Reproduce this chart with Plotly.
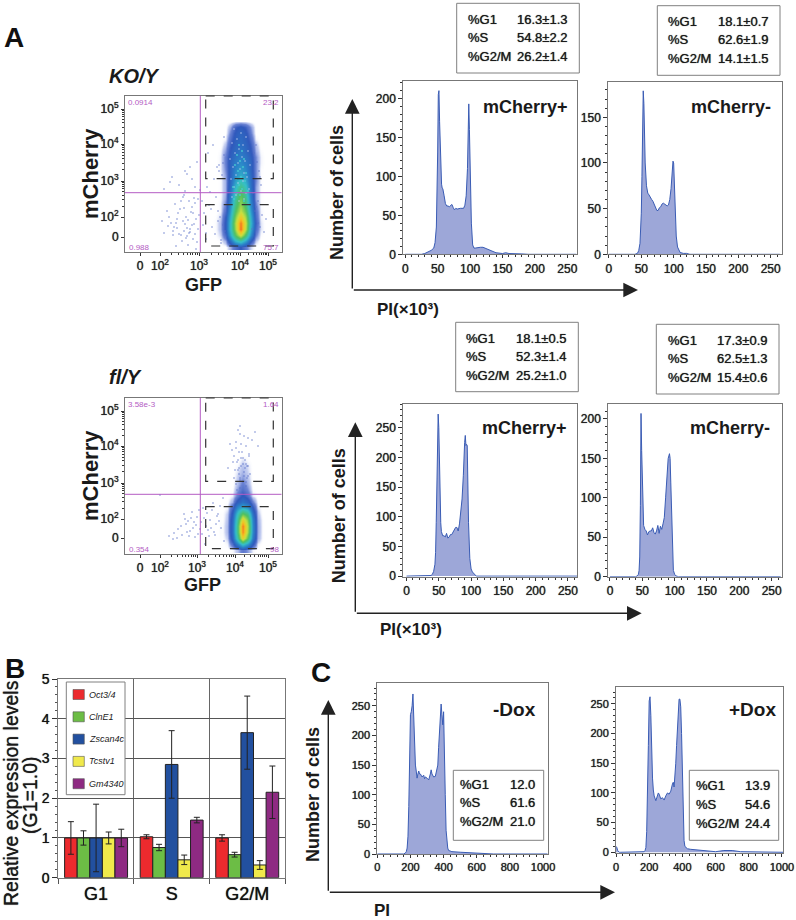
"""
Cell cycle figure: flow plots, PI histograms and expression bars (panels A, B, C).
"""
import math
import plotly.graph_objects as go

W, H = 796, 920
FONT = "Liberation Sans"
MAGENTA = "#b45cc4"
FRAME = "#777777"
HIST_LINE = "#3a5cb4"
HIST_FILL = "#9da7d8"
HEAVY = "0 0 0.8px #222222"

# --- panel A histograms (PI x 10^3 against cell counts)
ko_pos_x = [0, 25, 30, 35, 40, 44, 46, 48, 49, 50, 51, 52, 53, 54, 55, 56, 57, 58, 60, 62, 64, 66, 68, 70, 72, 74, 76, 78, 80, 85, 90, 92, 94, 96, 97, 98, 99, 100, 101, 102, 104, 106, 108, 112, 116, 120, 125, 130, 135, 140, 150, 155, 160, 170, 180, 190, 264]
ko_pos_y = [0, 0, 1, 3, 5, 8, 15, 35, 70, 130, 205, 210, 170, 130, 100, 90, 85, 84, 75, 65, 62, 62, 61, 62, 64, 60, 57, 59, 58, 59, 59, 63, 75, 110, 150, 193, 160, 110, 60, 40, 12, 8, 8, 9, 9, 9, 7, 5, 3, 2, 1, 2, 1, 1, 0.5, 0, 0]
ko_neg_x = [0, 40, 44, 46, 48, 49, 50, 51, 52, 53, 54, 55, 56, 58, 60, 62, 64, 66, 68, 70, 72, 74, 76, 78, 80, 82, 84, 86, 88, 90, 92, 94, 96, 97, 98, 99, 100, 101, 102, 104, 106, 108, 110, 115, 120, 125, 264]
ko_neg_y = [0, 0, 1, 4, 12, 25, 45, 85, 140, 179, 165, 130, 100, 75, 67, 65, 62, 60, 58, 55, 52, 48, 48, 51, 52, 55, 56, 55, 54, 53, 54, 60, 72, 85, 95, 102, 100, 75, 50, 20, 8, 4, 2, 1, 1, 0, 0]
fl_pos_x = [0, 35, 38, 40, 42, 44, 45, 46, 47, 48, 49, 50, 51, 52, 53, 54, 55, 56, 58, 60, 62, 64, 66, 68, 70, 72, 74, 76, 78, 80, 82, 84, 86, 88, 89, 90, 91, 92, 93, 94, 95, 96, 98, 100, 102, 104, 106, 108, 264]
fl_pos_y = [0, 0, 1, 3, 8, 20, 40, 90, 160, 240, 273, 250, 180, 120, 90, 75, 70, 68, 68, 66, 72, 64, 66, 70, 70, 74, 76, 82, 82, 76, 88, 105, 130, 170, 210, 225, 237, 220, 222, 220, 150, 90, 30, 12, 7, 4, 2, 0, 0]
fl_neg_x = [0, 40, 42, 44, 45, 46, 47, 48, 49, 50, 51, 52, 54, 56, 58, 60, 62, 64, 66, 68, 70, 72, 74, 76, 78, 80, 82, 84, 86, 88, 90, 92, 93, 94, 95, 96, 97, 98, 100, 102, 104, 106, 264]
fl_neg_y = [0, 0, 1, 3, 8, 25, 90, 207, 160, 110, 80, 65, 60, 58, 53, 57, 58, 58, 62, 56, 54, 58, 65, 55, 64, 60, 67, 75, 100, 130, 150, 156, 150, 120, 85, 45, 20, 8, 3, 1, 0.5, 0, 0]

# --- panel C histograms
minus_dox_x = [0, 160, 170, 175, 180, 185, 190, 195, 200, 205, 210, 215, 220, 225, 230, 235, 240, 245, 250, 255, 260, 270, 280, 285, 290, 300, 310, 320, 325, 330, 340, 350, 360, 365, 370, 375, 380, 385, 390, 395, 400, 405, 410, 415, 420, 425, 430, 440, 450, 500, 550, 600, 700, 1028]
minus_dox_y = [0, 0, 2, 4, 10, 30, 80, 160, 235, 240, 250, 270, 220, 160, 150, 140, 128, 135, 140, 135, 135, 130, 133, 127, 130, 128, 125, 135, 142, 135, 130, 131, 145, 150, 180, 200, 225, 253, 235, 218, 240, 190, 100, 40, 20, 10, 6, 5, 4, 3, 2, 1, 0, 0]
plus_dox_x = [0, 5, 10, 15, 20, 25, 160, 170, 175, 180, 185, 190, 195, 200, 205, 210, 215, 220, 225, 230, 240, 250, 255, 260, 270, 280, 290, 300, 310, 320, 330, 340, 345, 350, 355, 360, 365, 370, 375, 380, 385, 390, 395, 400, 405, 410, 415, 420, 430, 450, 500, 550, 600, 650, 700, 750, 1008]
plus_dox_y = [10, 8, 3, 1, 0, 0, 0, 1, 3, 8, 35, 90, 180, 255, 262, 230, 170, 125, 105, 95, 87, 95, 100, 98, 90, 92, 88, 95, 100, 98, 103, 115, 118, 110, 125, 150, 180, 210, 240, 258, 258, 245, 200, 130, 50, 20, 10, 8, 6, 5, 4, 3, 1, 3, 3, 1, 0, 0]

# --- panel B
phases = ["G1", "S", "G2/M"]
genes = ["Oct3/4", "ClnE1", "Zscan4c", "Tcstv1", "Gm4340"]
gene_colors = ["#ec2a2e", "#6cbd45", "#22509f", "#f0e94b", "#8e2a82"]
expr_values = [[1, 1.03, 1.0], [1, 0.76, 0.58], [1, 2.85, 3.65], [1, 0.45, 0.32], [1, 1.45, 2.15]]
expr_errors = [[0.41, 0.05, 0.08], [0.18, 0.08, 0.06], [0.85, 0.85, 0.92], [0.15, 0.12, 0.11], [0.22, 0.07, 0.66]]

# --- flow plots: density, axis units are display channels
flow_ticktext = ["0", "10<sup>2</sup>", "10<sup>3</sup>", "10<sup>4</sup>", "10<sup>5</sup>"]
ko_tick_x = [0, 20, 59, 100, 128]
ko_tick_y = [0, 20, 56, 93, 128]
fl_tick_x = [0, 20, 57, 95, 128]
fl_tick_y = [0, 19, 55, 92, 127]

ko_grid_x = [70, 75, 80, 85, 90, 95, 100, 105, 110, 115, 120, 125]
ko_grid_y = [116, 110, 104, 98, 92, 86, 80, 74, 68, 62, 56, 50, 44, 38, 32, 26, 20, 14, 8, 2, -4, -10]
ko_density = [
    [0, 0, 0, 0, 0, 0, 0, 0, 0, 0, 0, 0],
    [0, 0, 0, 0, .2, .6, .8, .6, .25, 0, 0, 0],
    [0, 0, 0, 0, .35, .8, 1, .8, .35, 0, 0, 0],
    [0, 0, 0, .05, .5, .9, 1.1, .9, .5, .05, 0, 0],
    [0, 0, 0, .15, .65, 1, 1.2, 1, .65, .15, 0, 0],
    [0, 0, .03, .25, .8, 1.1, 1.4, 1.1, .75, .2, .03, 0],
    [0, 0, .05, .35, .9, 1.3, 1.6, 1.3, .9, .3, .05, 0],
    [0, 0, .05, .35, 1, 1.5, 1.8, 1.5, 1, .3, .05, 0],
    [0, 0, .05, .3, 1, 1.7, 2.1, 1.7, 1, .3, .03, 0],
    [0, 0, .03, .25, 1, 1.9, 2.4, 2, 1.1, .3, .03, 0],
    [0, 0, .03, .2, 1.1, 2.2, 3, 2.4, 1.2, .3, .03, 0],
    [0, 0, .03, .2, 1.2, 2.7, 3.8, 3, 1.3, .25, .03, 0],
    [0, 0, .03, .2, 1.4, 3.2, 4.5, 3.4, 1.4, .25, .03, 0],
    [0, 0, .03, .25, 1.6, 3.6, 5, 3.8, 1.6, .25, .03, 0],
    [0, 0, .05, .35, 1.9, 4, 5.4, 4.2, 1.8, .35, .03, 0],
    [0, 0, .05, .5, 2.2, 4.5, 6, 4.7, 2.1, .45, .05, 0],
    [0, .02, .1, .7, 2.6, 5.2, 7.2, 5.5, 2.5, .55, .05, 0],
    [0, .03, .15, .8, 2.9, 5.8, 8.6, 6, 2.7, .65, .08, 0],
    [0, .03, .15, .8, 2.9, 5.6, 8.8, 5.8, 2.5, .55, .08, 0],
    [0, .02, .1, .55, 2.4, 4.6, 6.3, 4.3, 1.9, .35, .03, 0],
    [0, 0, .03, .2, 1.2, 2.6, 3.2, 2.2, .8, .12, 0, 0],
    [0, 0, 0, 0, .2, .5, .7, .4, .1, 0, 0, 0],
]
fl_grid_x = [82, 87, 92, 97, 102, 107, 112, 117, 122]
fl_grid_y = [84, 78, 72, 66, 60, 54, 48, 42, 36, 30, 24, 18, 12, 6, 0, -6, -12]
fl_density = [
    [0, 0, 0, 0, 0, 0, 0, 0, 0],
    [0, 0, 0, 0, .08, .03, 0, 0, 0],
    [0, 0, 0, .04, .14, .08, 0, 0, 0],
    [0, 0, 0, .08, .18, .1, 0, 0, 0],
    [0, 0, 0, .12, .25, .14, 0, 0, 0],
    [0, 0, 0, .16, .35, .2, 0, 0, 0],
    [0, 0, .02, .25, .5, .3, .03, 0, 0],
    [0, 0, .06, .4, .8, .5, .08, 0, 0],
    [0, .02, .2, .9, 1.3, 1, .35, .02, 0],
    [0, .06, .6, 1.9, 2.6, 2.1, .8, .08, 0],
    [.02, .12, .9, 3, 4.8, 4, 1.3, .15, 0],
    [.02, .15, 1.1, 3.6, 7, 5.2, 1.7, .2, .02],
    [.03, .18, 1.2, 4, 8.6, 5.8, 1.8, .22, .02],
    [.03, .18, 1.2, 4, 8.4, 5.6, 1.8, .22, .02],
    [.02, .12, 1, 3.4, 7, 4.6, 1.5, .2, .02],
    [0, .05, .5, 1.6, 3, 2.1, .8, .06, 0],
    [0, 0, .03, .15, .4, .25, .05, 0, 0],
]

# scattered single events outside the dense clouds
ko_dots_x = [41, 44, 47, 49, 52, 55, 58, 36, 39, 43, 46, 50, 53, 56, 59, 34, 38, 42, 45, 48, 51, 54, 57, 33, 37, 40, 44, 47, 50, 53, 29, 35, 41, 46, 52, 24, 31, 37, 43, 49, 55, 27, 33, 48, 54, 28, 36, 45, 22, 39, 32, 58, 60, 52, 47, 24, 30, 44, 50, 55, 57, 45, 56, 66, 72, 78, 64, 69, 76, 81, 66, 71, 85, 67, 74, 79, 70, 83, 63, 75, 112, 118, 122, 116, 124, 113, 120, 126, 68, 73, 77, 62, 84, 80, 82, 79, 84, 78, 83, 81, 117, 119, 114, 116, 121, 118, 115, 120]
ko_dots_y = [2, 6, 9, 4, 12, 3, 8, 14, 3, 16, 20, 8, -2, 18, 22, 10, 24, -4, 13, 17, 25, 13, -5, 6, 18, 28, 29, 1, 5, 24, 20, 33, 36, -1, 30, 4, 14, 9, 40, 36, 34, 26, 2, -8, 39, 11, -9, 46, 16, 52, 60, 38, 47, 58, 63, 48, 55, 42, 70, 50, 75, 66, -12, 4, 10, 16, 24, 32, 40, -6, -2, 28, 6, 50, 58, 66, 45, 74, 12, 3, 8, 14, 22, 30, 5, 44, 60, 18, 84, 92, 70, 36, 100, 20, 62, 72, 82, 26, 12, -3, 75, 66, 84, 92, 52, 36, 26, 10]
fl_dots_x = [34, 38, 42, 46, 50, 54, 58, 37, 41, 45, 49, 53, 57, 44, 48, 52, 56, 60, 29, 33, 47, 51, 55, 59, 62, 66, 70, 74, 78, 64, 68, 72, 76, 80, 84, 65, 69, 73, 77, 81, 61, 63, 67, 71, 75, 79, 83, 100, 104, 108, 96, 112, 92, 106, 98, 102, 109, 94, 101, 105, 97, 103, 107, 99, 95, 110, 104, 100, 106, 88, 115, 118, 100, 90, 108, 20, 96, 99, 103, 106, 101, 98, 104, 108, 94, 100, 103, 96, 106, 100, 97, 104, 102, 99, 105, 93, 109, 98, 107, 101]
fl_dots_y = [5, 9, 3, 14, 7, 16, 4, 0, 12, 19, 2, 10, 21, 24, 17, 26, 13, 9, 2, -1, 6, 20, 1, 28, 4, 12, 18, 6, 24, 20, 8, 28, 14, 32, -3, -6, 2, 35, 22, 10, 16, 30, 25, 10, 3, 17, 40, 104, 102, 100, 96, 98, 88, 92, 108, 86, 84, 82, 80, 78, 76, 74, 72, 70, 68, 64, 62, 60, 56, 70, 106, 92, 112, 94, 72, 43, 90, 86, 80, 74, 72, 68, 66, 62, 60, 58, 56, 54, 52, 50, 48, 46, 44, 64, 70, 76, 82, 78, 60, 94]
dots_color = "#5a70c8"

# lighter and cyan specks over the upper part of the KO cloud
ko_white_x = [94, 101, 106, 97, 92, 103, 99, 108, 95, 102, 105, 90, 98, 110, 93, 100, 104, 96, 107, 91, 103, 98, 94, 109, 101, 106, 96, 92, 104, 99]
ko_white_y = [108, 104, 100, 98, 94, 92, 88, 86, 84, 80, 76, 78, 74, 72, 70, 68, 64, 62, 60, 58, 56, 54, 50, 48, 46, 44, 42, 40, 38, 36]
ko_cyan_x = [99, 102, 97, 104, 100, 95, 103, 98, 106, 101, 96, 105, 99, 93, 102, 108, 97, 100, 94, 104]
ko_cyan_y = [92, 86, 82, 78, 76, 72, 70, 66, 64, 60, 58, 56, 52, 50, 48, 46, 44, 42, 38, 36]

density_scale = [
    [0.0, "rgba(255,255,255,0)"], [0.01, "rgba(130,150,225,0.45)"], [0.03, "rgba(70,100,200,0.8)"],
    [0.07, "#3058bc"], [0.16, "#2a80c8"], [0.28, "#35c0c8"], [0.45, "#50c060"], [0.6, "#c8e040"],
    [0.75, "#f8c020"], [0.9, "#f06020"], [1.0, "#e8281c"],
]

fig = go.Figure()
shapes = []
annotations = []


def px(x):
    return x / W


def py(y):
    return 1 - y / H


def text(x, y, s, size, anchor="left", bold=False, italic=False, color="#1a1a1a", angle=0, shadow=None):
    if bold:
        s = "<b>%s</b>" % s
    if italic:
        s = "<i>%s</i>" % s
    font = dict(family=FONT, size=size, color=color)
    if shadow:
        font["shadow"] = shadow
    annotations.append(dict(x=px(x), y=py(y), xref="paper", yref="paper", text=s, showarrow=False,
                            xanchor=anchor, yanchor="middle", textangle=angle, borderpad=0, font=font))


def rect(x0, y0, x1, y1, color="#777777", width=1, dash=None, fill=None):
    shapes.append(dict(type="rect", xref="paper", yref="paper", x0=px(x0), x1=px(x1), y0=py(y0), y1=py(y1),
                       line=dict(color=color, width=width, dash=dash), fillcolor=fill))


def line(x0, y0, x1, y1, color=MAGENTA, width=1):
    shapes.append(dict(type="line", xref="paper", yref="paper", x0=px(x0), x1=px(x1), y0=py(y0), y1=py(y1),
                       line=dict(color=color, width=width)))


def arrow(x0, y0, x1, y1):
    annotations.append(dict(x=px(x1), y=py(y1), xref="paper", yref="paper", axref="pixel", ayref="pixel",
                            ax=x0 - x1, ay=y0 - y1, text="", showarrow=True, arrowhead=2, arrowsize=2.1,
                            arrowwidth=1.4, arrowcolor="#222222"))


def add_axes(n, rect_px, xrange_, yrange_, xaxis_opts, yaxis_opts):
    left, top, right, bottom = rect_px
    base = dict(showline=True, linecolor=FRAME, linewidth=1, mirror=True, showgrid=False, zeroline=False,
                ticks="outside", tickcolor="#333333", tickwidth=1, layer="above traces", automargin=False)
    fig.layout["xaxis%d" % n] = dict(base, domain=[px(left), px(right)], anchor="y%d" % n, range=xrange_, **xaxis_opts)
    fig.layout["yaxis%d" % n] = dict(base, domain=[py(bottom), py(top)], anchor="x%d" % n, range=yrange_, **yaxis_opts)


def histogram(n, rect_px, xs, ys, xrange_, yrange_, x_ticks, y_ticks, size):
    fig.add_trace(go.Scatter(x=xs, y=ys, mode="lines", fill="tozeroy", fillcolor=HIST_FILL,
                             line=dict(color=HIST_LINE, width=1), showlegend=False,
                             xaxis="x%d" % n, yaxis="y%d" % n))
    tf = dict(family=FONT, size=size, color="#222222", shadow=HEAVY)
    add_axes(n, rect_px, xrange_, yrange_,
             dict(tickvals=x_ticks, ticklen=3, tickfont=tf, minor=dict(dtick=(x_ticks[1] - x_ticks[0]) / 5, ticks="outside", ticklen=2, tickcolor="#333333")),
             dict(tickvals=y_ticks, ticklen=4, tickfont=tf, minor=dict(dtick=(y_ticks[1] - y_ticks[0]) / 5, ticks="outside", ticklen=2, tickcolor="#333333")))


def log_minor(ticks):
    out = []
    for a, b in zip(ticks[1:-1], ticks[2:]):
        for k in range(2, 10):
            out.append(a + (b - a) * math.log10(k))
    return out


def flow(n, rect_px, origin, tick_x, tick_y, grid_x, grid_y, density, dots_x, dots_y):
    left, top, right, bottom = rect_px
    fig.add_trace(go.Heatmap(x=grid_x, y=grid_y, z=density, zmin=0, zmax=10, zsmooth="best",
                             colorscale=density_scale, showscale=False, hoverinfo="skip",
                             xaxis="x%d" % n, yaxis="y%d" % n))
    fig.add_trace(go.Scatter(x=dots_x, y=dots_y, mode="markers", showlegend=False,
                             marker=dict(size=1.4, color=dots_color, line=dict(width=0)),
                             xaxis="x%d" % n, yaxis="y%d" % n))
    tf = dict(family=FONT, size=12, color="#222222", shadow=HEAVY)
    add_axes(n, rect_px, [left - origin[0], right - origin[0]], [origin[1] - bottom, origin[1] - top],
             dict(tickvals=tick_x, ticktext=flow_ticktext, ticklen=3, tickfont=tf,
                  minor=dict(tickvals=log_minor(tick_x), ticks="outside", ticklen=2, tickcolor="#333333")),
             dict(tickvals=tick_y, ticktext=flow_ticktext, ticklen=3, tickfont=tf,
                  minor=dict(tickvals=log_minor(tick_y), ticks="outside", ticklen=2, tickcolor="#333333")))


def stats_box(box, rows_y, left, right, rows, size=13):
    rect(box[0], box[1], box[2], box[3], color="#808080", width=1, fill="white")
    for y, (name, val) in zip(rows_y, rows):
        text(left, y, name, size, shadow=HEAVY)
        text(right, y, val, size, anchor="right", shadow=HEAVY)


# panel A flow plots
flow(1, (125, 96, 281.5, 252), (140, 237), ko_tick_x, ko_tick_y, ko_grid_x, ko_grid_y, ko_density, ko_dots_x, ko_dots_y)
flow(2, (125, 398, 281.5, 553.5), (140, 538), fl_tick_x, fl_tick_y, fl_grid_x, fl_grid_y, fl_density, fl_dots_x, fl_dots_y)
fig.add_trace(go.Scatter(x=ko_white_x, y=ko_white_y, mode="markers", showlegend=False, xaxis="x1", yaxis="y1",
                         marker=dict(size=1.5, color="#b8c8ee", line=dict(width=0))))
fig.add_trace(go.Scatter(x=ko_cyan_x, y=ko_cyan_y, mode="markers", showlegend=False, xaxis="x1", yaxis="y1",
                         marker=dict(size=1.8, color="#46c8d0", line=dict(width=0))))

for vy, hy, top_box, low_box in [(96, 192.7, (96, 178.7), (204.7, 246)), (398, 494.3, (398, 481.3), (506.7, 548.7))]:
    line(200.3, vy, 200.3, vy + 156)
    line(125, hy, 281.5, hy)
    rect(205.7, top_box[0], 273.3, top_box[1], color="#333333", width=1.2, dash="dash")
    rect(205.7, low_box[0], 273.3, low_box[1], color="#333333", width=1.2, dash="dash")

for x, y, s, a in [(127, 102, "0.0914", "left"), (279.5, 102, "23.2", "right"), (128, 247, "0.988", "left"), (279.5, 247, "75.7", "right"),
                   (126.5, 404, "3.58e-3", "left"), (279.5, 404, "1.64", "right"), (128, 549.5, "0.354", "left"), (279.5, 549.5, "98", "right")]:
    text(x, y, s, 8, anchor=a, color=MAGENTA)

text(108, 76, "KO/Y", 20, bold=True, italic=True)
text(108, 377, "fl/Y", 20, bold=True, italic=True)
text(90, 174, "mCherry", 22, anchor="center", bold=True, angle=-90)
text(90, 476, "mCherry", 22, anchor="center", bold=True, angle=-90)
text(203, 285, "GFP", 18, anchor="center", bold=True)
text(202, 585, "GFP", 18, anchor="center", bold=True)

# panel A histograms
pi_ticks = [0, 50, 100, 150, 200, 250]
histogram(3, (403.3, 81.3, 576.7, 254.3), ko_pos_x, ko_pos_y, [-3, 264.5], [0, 222], pi_ticks, [0, 50, 100, 150, 200], 12)
histogram(4, (608.3, 81.7, 781.7, 254.3), ko_neg_x, ko_neg_y, [-1, 267], [0, 189], pi_ticks, [0, 50, 100, 150], 12)
histogram(5, (403.3, 404, 577, 576.7), fl_pos_x, fl_pos_y, [-5, 264], [-1, 290], pi_ticks, [0, 50, 100, 150, 200, 250], 12)
histogram(6, (608.3, 404, 782, 576.7), fl_neg_x, fl_neg_y, [-2.6, 266], [0, 219], pi_ticks, [0, 50, 100, 150, 200], 12)

text(569.3, 107, "mCherry+", 18, anchor="right", bold=True)
text(771.7, 107, "mCherry-", 18, anchor="right", bold=True)
text(568.3, 428.3, "mCherry+", 18, anchor="right", bold=True)
text(771, 428.3, "mCherry-", 18, anchor="right", bold=True)

stats_box((456.7, 3.3, 579.3, 73), [19, 37.7, 56.3], 466.7, 569.3, [("%G1", "16.3±1.3"), ("%S", "54.8±2.2"), ("%G2/M", "26.2±1.4")])
stats_box((657.3, 5.7, 780, 75.3), [21, 40, 58.5], 667.3, 770, [("%G1", "18.1±0.7"), ("%S", "62.6±1.9"), ("%G2/M", "14.1±1.5")])
stats_box((455.7, 322.3, 578.3, 391.7), [338, 356.7, 375.3], 465.3, 568.3, [("%G1", "18.1±0.5"), ("%S", "52.3±1.4"), ("%G2/M", "25.2±1.0")])
stats_box((656.3, 324.3, 779, 394), [340, 358.7, 377.3], 666.7, 769.3, [("%G1", "17.3±0.9"), ("%S", "62.5±1.3"), ("%G2/M", "15.4±0.6")])

arrow(352.3, 290, 352.3, 99)
arrow(352.3, 290, 638, 290)
arrow(355.3, 613.3, 355.3, 422.3)
arrow(355.3, 613.3, 641.7, 613.3)
text(337, 193, "Number of cells", 18, anchor="center", bold=True, angle=-90)
text(339.3, 516, "Number of cells", 18, anchor="center", bold=True, angle=-90)
text(375.7, 310, "PI(×10³)", 17, bold=True)
text(379, 629, "PI(×10³)", 17, bold=True)

# panel C
dox_ticks = [0, 200, 400, 600, 800, 1000]
histogram(7, (377.3, 683.3, 547.7, 854), minus_dox_x, minus_dox_y, [0, 1028], [0, 288], dox_ticks, [0, 50, 100, 150, 200, 250], 11)
histogram(8, (616, 686.7, 783.3, 853.3), plus_dox_x, plus_dox_y, [0, 1008], [-1.7, 279], dox_ticks, [0, 50, 100, 150, 200, 250], 11)
text(536.7, 709, "-Dox", 19, anchor="right", bold=True)
text(776.7, 709, "+Dox", 19, anchor="right", bold=True)
stats_box((453.3, 770.3, 543.7, 840.3), [784, 802.7, 821.7], 459, 536, [("%G1", "12.0"), ("%S", "61.6"), ("%G2/M", "21.0")])
stats_box((689.3, 770.3, 778.7, 840.3), [785.7, 804.3, 823], 694.7, 771, [("%G1", "13.9"), ("%S", "54.6"), ("%G2/M", "24.4")])
arrow(328.3, 892.3, 328.3, 700)
arrow(328.3, 892.3, 615, 892.3)
text(313, 795, "Number of cells", 18, anchor="center", bold=True, angle=-90)
text(372.7, 910.5, "PI", 17, bold=True)

# panel B
for gene, color, vals, errs in zip(genes, gene_colors, expr_values, expr_errors):
    fig.add_trace(go.Bar(x=[0, 1, 2], y=vals, name=gene, showlegend=False, xaxis="x9", yaxis="y9",
                         marker=dict(color=color, line=dict(color="#222222", width=1)),
                         error_y=dict(type="data", array=errs, color="#222222", thickness=1, width=3)))
fig.update_layout(barmode="group", bargap=0.167, bargroupgap=0)
add_axes(9, (58.3, 679, 285, 877.7), [-0.5, 2.5], [0, 5],
         dict(tickvals=[0, 1, 2], ticktext=phases, ticklen=0, tickfont=dict(family=FONT, size=18, color="#111111", shadow=HEAVY),
              minor=dict(tickvals=[-0.5, 0.5, 1.5, 2.5], ticks="outside", ticklen=5, tickcolor="#555555",
                         showgrid=True, gridcolor="#666666", gridwidth=1)),
         dict(tickvals=[0, 1, 2, 3, 4, 5], ticklen=5, showgrid=True, gridcolor="#555555", gridwidth=1,
              tickfont=dict(family=FONT, size=14, color="#111111", shadow=HEAVY),
              minor=dict(dtick=0.2, ticks="outside", ticklen=2, tickcolor="#555555")))

rect(66.3, 682, 125, 794.7, color="#808080", width=1, fill="white")
for i, (gene, color) in enumerate(zip(genes, gene_colors)):
    y = 694.5 + i * 22.3
    rect(73, y - 5, 84.3, y + 5, color="#555555", width=0.6, fill=color)
    text(88, y, gene, 9, italic=True)

text(11, 793, "Relative expression levels", 19.5, anchor="center", angle=-90, shadow=HEAVY)
text(30, 795, "(G1=1.0)", 19.5, anchor="center", angle=-90, shadow=HEAVY)

text(3, 38, "A", 28, bold=True, color="#111111")
text(4, 668, "B", 28, bold=True, color="#111111")
text(310, 672, "C", 28, bold=True, color="#111111")

fig.update_layout(width=W, height=H, margin=dict(l=0, r=0, t=0, b=0), paper_bgcolor="white", plot_bgcolor="white",
                  showlegend=False, shapes=shapes, annotations=annotations, font=dict(family=FONT))
fig.write_html("out.html", config={"displayModeBar": False}, post_script="document.body.style.margin='0';")
